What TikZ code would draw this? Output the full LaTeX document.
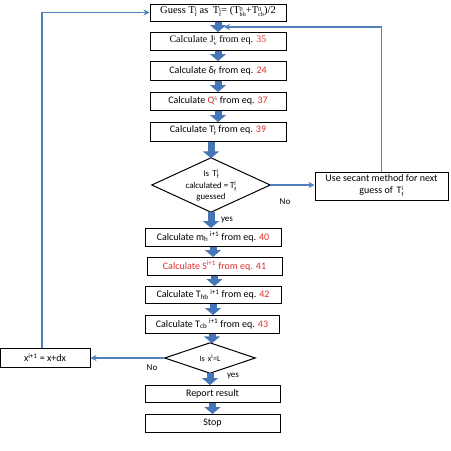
\documentclass[tikz,border=0pt]{standalone}
\usepackage{fontspec}
\setmainfont{Carlito}
\newfontfamily\serifrm{Liberation Serif}
\usetikzlibrary{arrows.meta}
\definecolor{lnblue}{HTML}{4F81BD}
\definecolor{blkblue}{HTML}{4676B6}
\definecolor{eqred}{RGB}{222,45,45}
\newcommand\subsup[2]{\raisebox{-0.28em}{\begingroup\fontsize{6.2}{6.2}\selectfont\renewcommand\arraystretch{0.74}\begin{tabular}[b]{@{}l@{}}#2\\#1\end{tabular}\endgroup}}
\newcommand\rd[1]{\textcolor{eqred}{#1}}
\tikzset{
  box/.style={draw, line width=1pt, rectangle, inner sep=0pt, align=center, font=\fontsize{10}{12}\selectfont},
  diabox/.style={rectangle, inner sep=0pt},
  diaedge/.style={draw, line width=1pt, line join=miter},
  dtext/.style={align=center, font=\fontsize{8.8}{11}\selectfont},
  lbl/.style={font=\fontsize{9}{10}\selectfont},
  conn/.style={draw=lnblue, line width=1.3pt, -{Stealth[length=6pt,width=6pt]}},
  blk/.style={draw=blkblue, line width=7pt, -{Triangle[length=7pt,width=16pt]}, shorten >=-0.5pt}
}
\begin{document}
\begin{tikzpicture}[x=1pt,y=-1pt]
\useasboundingbox (0,0) rectangle (451,451);
% top boxes
\node[box, minimum width=136pt, minimum height=17pt, font=\fontsize{10.5}{12}\selectfont] (b1) at (218,12.5) {\serifrm Guess T\subsup{f}{i} as\, T\subsup{f}{i}= (T\subsup{hb}{0}+T\subsup{cb}{0})/2};
\node[box, minimum width=136pt, minimum height=18pt] (b2) at (218,41) {\serifrm Calculate J\subsup{v}{i} from eq. \rd{35}};
\node[box, minimum width=136pt, minimum height=19pt] (b3) at (218,70.5) {Calculate δ\textsubscript{f} from eq. \rd{24}};
\node[box, minimum width=136pt, minimum height=18pt] (b4) at (218,101) {Calculate \rd{Q\textsuperscript{s}} from eq. \rd{37}};
\node[box, minimum width=136pt, minimum height=19pt] (b5) at (218,131.5) {Calculate T\subsup{f}{i} from eq. \rd{39}};
% decision 1
\node[diabox, minimum width=118pt, minimum height=54pt] (d1) at (211,185) {};
\draw[diaedge] (d1.north) -- (d1.east) -- (d1.south) -- (d1.west) -- cycle;
\node[dtext] (d1t) at (211,185) {Is\, T\subsup{f}{i}\\calculated = T\subsup{f}{i}\\guessed};
% secant box
\node[box, minimum width=133pt, minimum height=28pt, font=\fontsize{10}{12}\selectfont] (sec) at (381.5,186) {Use secant method for next\\guess of\, T\subsup{f}{i}};
% lower boxes
\node[box, minimum width=136pt, minimum height=18pt] (b6) at (213,237) {Calculate m\textsubscript{h}\,\textsuperscript{i+1} from eq. \rd{40}};
\node[box, minimum width=135pt, minimum height=18pt] (b7) at (214.5,266) {\rd{Calculate S\textsuperscript{i+1} from eq. 41}};
\node[box, minimum width=136pt, minimum height=17pt] (b8) at (213,294.5) {Calculate T\textsubscript{hb}\,\textsuperscript{i+1} from eq. \rd{42}};
\node[box, minimum width=134pt, minimum height=18pt] (b9) at (212,324) {Calculate T\textsubscript{cb}\,\textsuperscript{i+1} from eq. \rd{43}};
% decision 2
\node[diabox, minimum width=90pt, minimum height=30pt] (d2) at (210,358) {};
\draw[diaedge] (d2.north) -- (d2.east) -- (d2.south) -- (d2.west) -- cycle;
\node[dtext, font=\fontsize{8}{10}\selectfont] (d2t) at (210,358) {Is\, x\textsuperscript{i}=L};
% x box
\node[box, minimum width=90pt, minimum height=19pt] (xb) at (45,357.5) {x\textsuperscript{i+1} = x+dx};
% report / stop
\node[box, minimum width=135pt, minimum height=17pt] (rep) at (212.5,393.5) {Report result};
\node[box, minimum width=135pt, minimum height=18pt] (stop) at (212.5,423) {Stop};
% labels
\node[lbl] (no1) at (285,202) {No};
\node[lbl] (yes1) at (227,220) {yes};
\node[lbl] (no2) at (152,368) {No};
\node[lbl] (yes2) at (233,376.5) {yes};
% block arrows
\draw[blk] (b2.north |- b1.south) -- (b2.north);
\draw[blk] (b3.north |- b2.south) -- (b3.north);
\draw[blk] (b4.north |- b3.south) -- (b4.north);
\draw[blk] (b5.north |- b4.south) -- (b5.north);
\draw[blk] (b5.south -| d1.north) -- (d1.north);
\draw[blk] (d1.south) -- (d1.south |- b6.north);
\draw[blk] (b6.south) -- (b6.south |- b7.north);
\draw[blk] (b7.south) -- (b7.south |- b8.north);
\draw[blk] (b8.south) -- (b8.south |- b9.north);
\draw[blk] (b9.south) -- (b9.south |- d2.north);
\draw[blk] (d2.south) -- (d2.south |- rep.north);
\draw[blk] (rep.south) -- (rep.south |- stop.north);
% connectors
\coordinate (fb) at (224,27);
\coordinate (lx) at (42,348);
\draw[conn] (d1.east) -- (d1.east -| sec.west);
\draw[conn] (sec.north) |- (fb);
\draw[conn] (d2.west) -- (d2.west -| xb.east);
\draw[conn] (lx) |- (b1.west);
\end{tikzpicture}
\end{document}
